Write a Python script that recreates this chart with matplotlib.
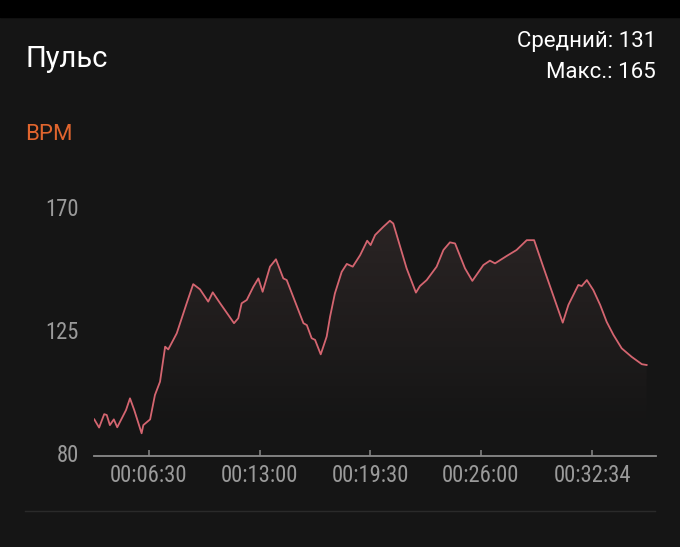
import matplotlib
matplotlib.use("Agg")
import matplotlib.pyplot as plt
import numpy as np

# пульс за тренировку: время (с) и уд/мин
time_s = [197, 214, 232, 241, 252, 266, 278, 309, 323, 338, 364, 370, 394, 411, 429,
          447, 458, 488, 523, 546, 570, 599, 615, 641, 670, 690, 705, 717, 735, 758,
          776, 791, 817, 838, 864, 876, 935, 947, 964, 976, 996, 1017, 1029, 1046, 1070,
          1088, 1109, 1135, 1160, 1172, 1188, 1217, 1240, 1252, 1299, 1332, 1346, 1370,
          1405, 1429, 1452, 1470, 1505, 1531, 1570, 1593, 1611, 1652, 1687, 1723, 1749,
          1781, 1850, 1870, 1905, 1917, 1935, 1958, 1982, 2005, 2029, 2058, 2093, 2129, 2146]
bpm = [92.3, 89.3, 94.2, 93.9, 90.2, 92.3, 89.4, 95.7, 100.0, 95.7, 87.2, 90.2, 92.3,
       101.2, 106.1, 118.9, 117.9, 123.8, 134.8, 141.8, 139.9, 135.4, 138.8, 134.8,
       130.5, 127.5, 129.3, 134.8, 136.0, 140.8, 143.9, 139.0, 148.2, 150.9, 143.9,
       143.3, 127.5, 126.8, 122.0, 121.4, 116.1, 122.6, 129.9, 138.4, 146.3, 149.2,
       148.2, 152.4, 157.7, 156.1, 159.8, 162.8, 165.0, 164.0, 147.6, 138.7, 141.1,
       143.3, 148.2, 154.3, 157.1, 156.7, 147.6, 143.0, 148.8, 150.4, 149.4, 152.1,
       154.3, 157.9, 157.9, 148.2, 127.7, 134.2, 141.5, 141.1, 143.3, 139.6, 134.2,
       128.0, 123.2, 118.3, 115.2, 112.5, 112.2]

x_ticks = [390, 780, 1170, 1560, 1954]
x_labels = ["00:06:30", "00:13:00", "00:19:30", "00:26:00", "00:32:34"]
y_ticks = [80, 125, 170]

BG = "#151515"
LINE = "#d46570"
GREY = "#9a9a9a"
UI = ["Roboto", "DejaVu Sans"]
NARROW = ["Roboto Condensed", "Roboto", "DejaVu Sans"]

fig = plt.figure(figsize=(6.8, 5.47), dpi=100, facecolor=BG)

# чёрная полоса сверху
fig.patches.append(plt.Rectangle((0, 1 - 17 / 547), 1, 17 / 547,
                                 transform=fig.transFigure, color="black", zorder=0))
# разделитель снизу
fig.add_artist(plt.Line2D([25 / 680, 655 / 680], [1 - 511 / 547] * 2,
                          color="#2a2a2a", lw=1))

fig.text(25 / 680, 1 - 59 / 547, "Пульс", color="white", fontsize=21,
         family=UI, va="center", ha="left")
fig.text(656 / 680, 1 - 42 / 547, "Средний: 131", color="white", fontsize=16,
         family=UI, va="center", ha="right")
fig.text(656 / 680, 1 - 73 / 547, "Макс.: 165", color="white", fontsize=16,
         family=UI, va="center", ha="right")
fig.text(25 / 680, 1 - 135 / 547, "BPM", color="#e0652e", fontsize=16,
         family=UI, va="center", ha="left")

ax = fig.add_axes([94 / 680, 1 - 455.7 / 547, (655.7 - 94) / 680, (455.7 - 200) / 547])
ax.set_facecolor(BG)
ax.set_xlim(196, 2178)
ax.set_ylim(79.0, 172.6)

# градиентная заливка под линией
grad = np.zeros((256, 1, 4))
grad[..., 0] = 0.75
grad[..., 1] = 0.55
grad[..., 2] = 0.55
grad[..., 3] = np.linspace(0.13, 0.0, 256)[:, None]
img = ax.imshow(grad, aspect="auto", extent=[196, 2178, 88, 166], origin="upper", zorder=1)
poly = ax.fill_between(time_s, bpm, 79, color="none", lw=0)
img.set_clip_path(poly.get_paths()[0], transform=ax.transData)

ax.plot(time_s, bpm, color=LINE, lw=1.3, solid_joinstyle="round", zorder=3)

for side in ("top", "right", "left"):
    ax.spines[side].set_visible(False)
ax.spines["bottom"].set_color("#8a8a8a")
ax.spines["bottom"].set_linewidth(1.3)

ax.set_xticks(x_ticks)
ax.set_xticklabels(x_labels, family=NARROW, fontsize=16.3, color=GREY)
ax.set_yticks(y_ticks)
ax.set_yticklabels([str(v) for v in y_ticks], family=NARROW, fontsize=16.3, color=GREY)
ax.tick_params(axis="x", direction="in", length=4, width=1.1, color="#8a8a8a", pad=6)
ax.tick_params(axis="y", length=0, pad=11)

fig.savefig("out.png", dpi=100, facecolor=BG)
